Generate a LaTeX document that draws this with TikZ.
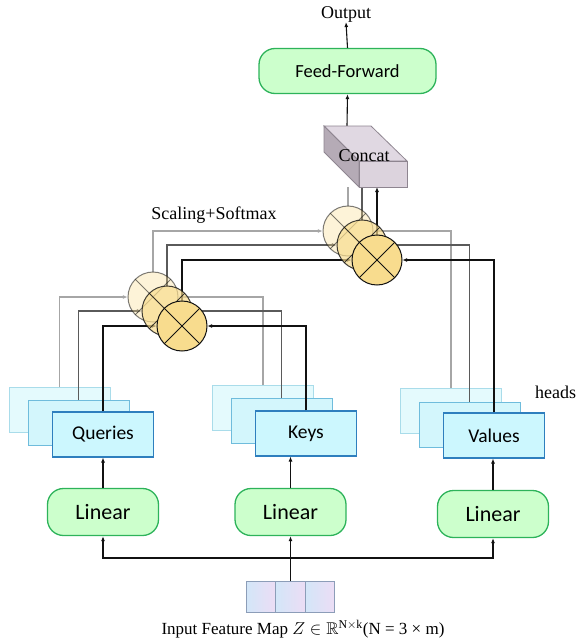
\documentclass[tikz,border=0pt]{standalone}
\usepackage{fontspec}
\usepackage{amssymb}
\setmainfont{Liberation Serif}
\newfontfamily\carl{Carlito}
\usetikzlibrary{arrows.meta}
\definecolor{gline}{HTML}{A6A6A6}
\definecolor{dline}{HTML}{5A5A5A}
\definecolor{kline}{HTML}{111111}
\definecolor{grnF}{HTML}{CCFFCC}
\definecolor{grnD}{HTML}{2DB35A}
\definecolor{cyA}{HTML}{E4FAFD}
\definecolor{cyAD}{HTML}{A9DCEA}
\definecolor{cyB}{HTML}{D3F6FC}
\definecolor{cyBD}{HTML}{6FBCDC}
\definecolor{cyC}{HTML}{CCF7FE}
\definecolor{cyCD}{HTML}{2E7FBE}
\definecolor{gold}{HTML}{F8DC8E}
\definecolor{ccTop}{HTML}{E0D8E2}
\definecolor{ccLeft}{HTML}{B5ABB6}
\definecolor{ccFront}{HTML}{DCD3DD}
\definecolor{ccEdge}{HTML}{8E8590}
\definecolor{inL}{HTML}{D3E6F8}
\definecolor{inR}{HTML}{ECDDF5}
\definecolor{inD}{HTML}{8C9DB8}
\begin{document}
\begin{tikzpicture}[x=1pt,y=-1pt,
  serif/.style={inner sep=0pt, font=\fontsize{18}{20}\selectfont},
  lin/.style={draw=grnD, fill=grnF, line width=1.3pt, rounded corners=16pt,
    minimum width=111pt, minimum height=47pt, inner sep=0pt,
    font=\carl\fontsize{22}{24}\selectfont},
  ff/.style={lin, minimum width=177pt, minimum height=45pt,
    font=\carl\fontsize{18.5}{20}\selectfont},
  bxA/.style={draw=cyAD, fill=cyA, line width=1pt, minimum width=101pt,
    minimum height=45pt, inner sep=0pt},
  bxB/.style={bxA, draw=cyBD, fill=cyB},
  bxC/.style={bxA, draw=cyCD, fill=cyC, line width=1.1pt,
    font=\carl\fontsize{19.5}{21}\selectfont},
  mul/.style n args={2}{circle, minimum size=50pt, inner sep=0pt, line width=1pt,
    draw=kline, fill=gold, fill opacity=#1, draw opacity=#2,
    path picture={\draw[line width=1pt, kline, draw opacity=#2]
      (path picture bounding box.north west) -- (path picture bounding box.south east)
      (path picture bounding box.north east) -- (path picture bounding box.south west);}},
  cell/.style={draw=inD, line width=0.8pt, left color=inL, right color=inR,
    minimum width=29.3pt, minimum height=31pt, inner sep=0pt},
  tip/.style={-{Latex[length=5pt,width=4pt]}},
  gl/.style={draw=gline, line width=1.5pt},
  dl/.style={draw=dline, line width=1.5pt},
  kl/.style={draw=kline, line width=1.5pt},
  thin/.style={draw=kline, line width=1.1pt}
]
\useasboundingbox (0,0) rectangle (577,642);

% ---- nodes (positions) ----
\node[serif] (out) at (346,14) {Output};
\node[ff] (ff) at (347.5,71) {Feed-Forward};
\coordinate (cctop) at (347,126);
\coordinate (cbot) at (378,187);

\node[serif] (scal) at (214,215) {Scaling+Softmax};
\node[serif] (heads) at (555.5,392) {heads};

% boxes
\node[bxA] (qA) at (59.5,409.5) {};
\node[bxB] (qB) at (78.5,423) {};
\node[bxC] (qC) at (103,434.5) {Queries};
\node[bxA] (kA) at (263,407.5) {};
\node[bxB] (kB) at (281.5,421) {};
\node[bxC] (kC) at (306,433.5) {Keys};
\node[bxA] (vA) at (451,410.5) {};
\node[bxB] (vB) at (469.5,424.5) {};
\node[bxC] (vC) at (494,435.5) {Values};

\node[lin] (lq) at (103,512) {Linear};
\node[lin] (lk) at (290.5,512) {Linear};
\node[lin] (lv) at (493,514) {Linear};

\node[cell] (in1) at (261.2,597) {};
\node[cell] (in2) at (290.5,597) {};
\node[cell] (in3) at (319.8,597) {};
\node[inner sep=0pt, font=\fontsize{17}{19}\selectfont] (lbl) at (303,629)
  {Input Feature Map $Z\in\mathbb{R}^{\mathrm{N}\times\mathrm{k}}$(N = 3 × m)};
\coordinate (jn) at (290.5,558);

% circles are placed now but drawn later
\path (153,297) coordinate (c1p) (167,311) coordinate (c2p) (182,326) coordinate (c3p)
      (348,231) coordinate (u1p) (362,245) coordinate (u2p) (377,260) coordinate (u3p);
\path node[circle, minimum size=50pt, inner sep=0pt] (c1) at (c1p) {}
      node[circle, minimum size=50pt, inner sep=0pt] (c2) at (c2p) {}
      node[circle, minimum size=50pt, inner sep=0pt] (c3) at (c3p) {}
      node[circle, minimum size=50pt, inner sep=0pt] (u1) at (u1p) {}
      node[circle, minimum size=50pt, inner sep=0pt] (u2) at (u2p) {}
      node[circle, minimum size=50pt, inner sep=0pt] (u3) at (u3p) {};

% ---- connectors ----
\draw[gl,tip] (qA.north) |- (c1.west);
\draw[dl,tip] (qB.north) |- (c2.west);
\draw[kl,tip] (qC.north) |- (c3.west);
\draw[gl,tip] (kA.north) |- (c1.east);
\draw[dl,tip] (kB.north) |- (c2.east);
\draw[kl,tip] (kC.north) |- (c3.east);
\draw[gl,tip] (c1.north) |- (u1.west);
\draw[dl,tip] (c2.north) |- (u2.west);
\draw[kl,tip] (c3.north) |- (u3.west);
\draw[gl,tip] (vA.north) |- (u1.east);
\draw[dl,tip] (vB.north) |- (u2.east);
\draw[kl,tip] (vC.north) |- (u3.east);
\draw[gl] (u1.north) -- (u1.north |- cbot);
\draw[dl] (u2.north) -- (u2.north |- cbot);
\draw[kl,tip] (u3.north) -- (u3.north |- cbot);

\draw[thin,tip] (lq.north) -- (lq.north |- qC.south);
\draw[thin,tip] (lk.north) -- (lk.north |- kC.south);
\draw[thin,tip] (lv.north) -- (lv.north |- vC.south);
\draw[thin] (in2.north) -- (jn);
\draw[thin,tip] (jn) -| (lq.south);
\draw[thin,tip] (jn) -| (lv.south);
\draw[thin,tip] (jn) -- (lk.south);
\draw[thin,tip] (cctop) -- (ff.south);
\draw[thin,tip] (ff.north) -- (out.south);

% ---- circles drawn on top ----
\node[mul={0.35}{0.55}] at (c1p) {};
\node[mul={0.7}{0.8}] at (c2p) {};
\node[mul={1}{1}] at (c3p) {};
\node[mul={0.35}{0.55}] at (u1p) {};
\node[mul={0.7}{0.8}] at (u2p) {};
\node[mul={1}{1}] at (u3p) {};

% ---- concat cuboid ----
\filldraw[fill=ccTop, draw=ccEdge, line width=0.8pt] (324,126) -- (371,126) -- (407,161) -- (359,161) -- cycle;
\filldraw[fill=ccLeft, draw=ccEdge, line width=0.8pt] (324,126) -- (359,161) -- (359,187) -- (324,152) -- cycle;
\filldraw[fill=ccFront, draw=ccEdge, line width=0.8pt] (359,161) -- (407,161) -- (407,187) -- (359,187) -- cycle;
\node[serif] (concat) at (364,156) {Concat};
\end{tikzpicture}
\end{document}
